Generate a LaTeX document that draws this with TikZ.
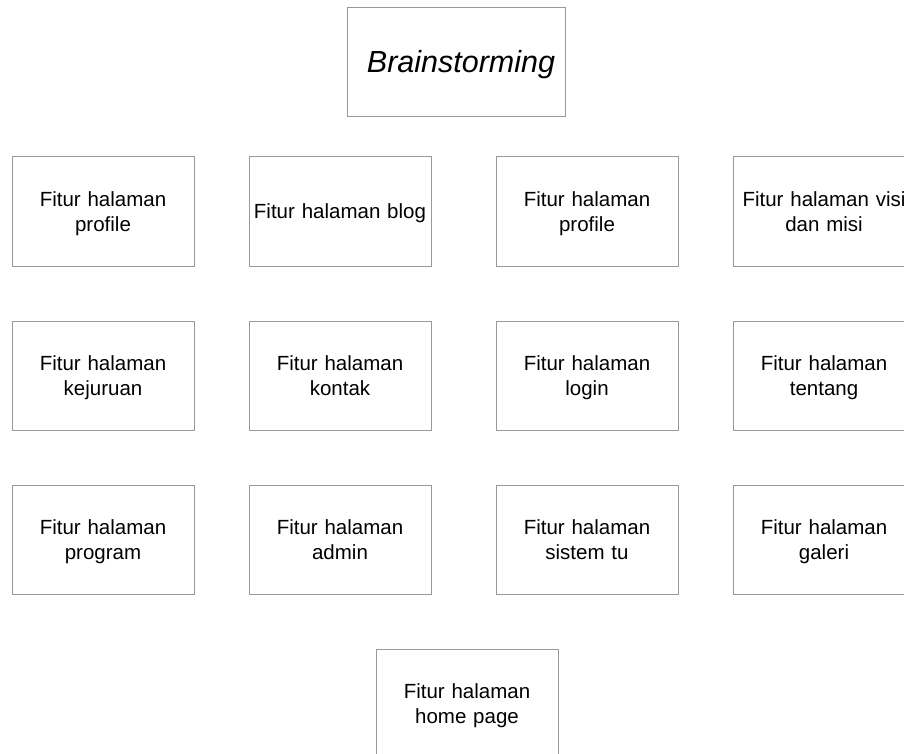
\documentclass[tikz,border=0pt]{standalone}
\usepackage{fontspec}
\setmainfont{Liberation Sans}
\begin{document}
\begin{tikzpicture}[x=1pt,y=-1pt,
  box/.style={draw=black!40, line width=1pt, fill=white, minimum width=182pt, minimum height=109pt, inner sep=0pt, align=center, font=\fontsize{20.5}{25}\selectfont, text width=180pt, execute at begin node={\rule{0pt}{21.5pt}}, execute at end node=\strut}]
\useasboundingbox (0,0) rectangle (904,754);
\clip (0,0) rectangle (904,754);
\node[box, minimum width=218pt, font=\fontsize{30.5}{36}\selectfont\itshape, text width=210pt, execute at begin node={\rule{0pt}{31pt}}] (brain) at (456,62.5) {\hspace*{10pt}Brainstorming};
\node[box] (p1) at (103,211.5) {Fitur halaman\\profile};
\node[box] (blog) at (340,211.5) {Fitur halaman blog};
\node[box] (p2) at (587,211.5) {Fitur halaman\\profile};
\node[box] (visi) at (824,211.5) {Fitur halaman visi\\dan misi};
\node[box] (kej) at (103,375.5) {Fitur halaman\\kejuruan};
\node[box] (kontak) at (340,375.5) {Fitur halaman\\kontak};
\node[box] (login) at (587,375.5) {Fitur halaman\\login};
\node[box] (tentang) at (824,375.5) {Fitur halaman\\tentang};
\node[box] (prog) at (103,539.5) {Fitur halaman\\program};
\node[box] (admin) at (340,539.5) {Fitur halaman\\admin};
\node[box] (tu) at (587,539.5) {Fitur halaman\\sistem tu};
\node[box] (galeri) at (824,539.5) {Fitur halaman\\galeri};
\node[box] (home) at (467,703.5) {Fitur halaman\\home page};
\end{tikzpicture}
\end{document}
